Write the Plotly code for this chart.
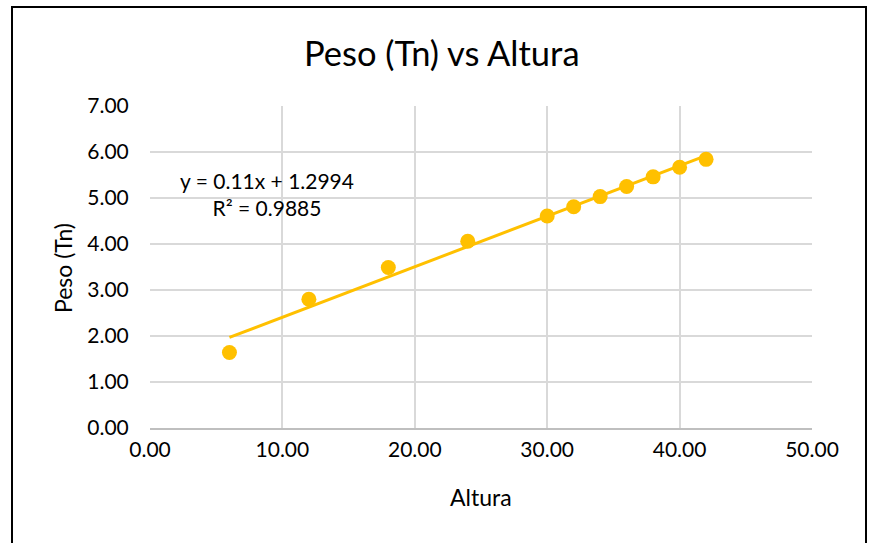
import numpy as np
import plotly.graph_objects as go

altura = [6, 12, 18, 24, 30, 32, 34, 36, 38, 40, 42]
peso = [1.64, 2.80, 3.49, 4.06, 4.61, 4.81, 5.03, 5.25, 5.46, 5.67, 5.84]
x_ticks = [0, 10, 20, 30, 40, 50]
y_ticks = [0, 1, 2, 3, 4, 5, 6, 7]
eq_text = "y = 0.11x + 1.2994<br>R² = 0.9885"

slope, intercept = np.polyfit(altura, peso, 1)
tx = [min(altura), max(altura)]
ty = [slope * v + intercept for v in tx]

color = "#FFC000"
font = "Lato, Carlito, Calibri, sans-serif"

W, H = 869, 543
PL, PR, PT, PB = 150, 812, 106, 428  # plot area in window pixels
L, T = PL, PT
pw, ph = PR - PL, PB - PT
R, B = W - L - pw, H - T - ph

def px(x): return (x - PL) / pw
def py(y): return (PB - y) / ph

fig = go.Figure()
fig.add_trace(go.Scatter(x=altura, y=peso, mode="markers",
                         marker=dict(color=color, size=15), showlegend=False))
fig.add_trace(go.Scatter(x=tx, y=ty, mode="lines",
                         line=dict(color=color, width=3), showlegend=False))

fig.add_annotation(x=px(267), y=py(194), xref="paper", yref="paper", text=eq_text,
                   showarrow=False, align="center", xanchor="center", yanchor="middle",
                   font=dict(family=font, size=21, color="#000"))

fig.add_annotation(x=px(481), y=py(497), xref="paper", yref="paper", text="Altura",
                   showarrow=False, xanchor="center", yanchor="middle",
                   font=dict(family=font, size=23, color="#000"))
fig.add_annotation(x=px(63), y=py(268), xref="paper", yref="paper", text="Peso (Tn)",
                   showarrow=False, xanchor="center", yanchor="middle", textangle=-90,
                   font=dict(family=font, size=23, color="#000"))
fig.add_annotation(x=px(442), y=py(52), xref="paper", yref="paper", text="Peso (Tn) vs Altura",
                   showarrow=False, xanchor="center", yanchor="middle",
                   font=dict(family=font, size=34.5, color="#000"))

fig.add_shape(type="rect", xref="paper", yref="paper",
              x0=px(12), x1=px(866), y0=py(580), y1=py(7),
              line=dict(color="#000", width=2), layer="below")

fig.update_layout(
    width=W, height=H,
    margin=dict(l=L, r=R, t=T, b=B),
    paper_bgcolor="white", plot_bgcolor="white",
    font=dict(family=font, size=21, color="#000"),
    xaxis=dict(range=[0, 50], tickvals=x_ticks, tickformat=".2f",
               showgrid=True, gridcolor="#d9d9d9", gridwidth=1.5,
               zeroline=False, showline=True, linecolor="#bfbfbf", linewidth=1.5,
               ticks="outside", ticklen=2, tickcolor="rgba(0,0,0,0)"),
    yaxis=dict(range=[0, 7], tickvals=y_ticks, tickformat=".2f",
               showgrid=True, gridcolor="#d9d9d9", gridwidth=1.5,
               zeroline=False, showline=False,
               ticks="outside", ticklen=16, tickcolor="rgba(0,0,0,0)"),
)

fig.write_html("out.html", config={"displayModeBar": False},
               post_script="document.body.style.margin='0';document.body.style.overflow='hidden';")
